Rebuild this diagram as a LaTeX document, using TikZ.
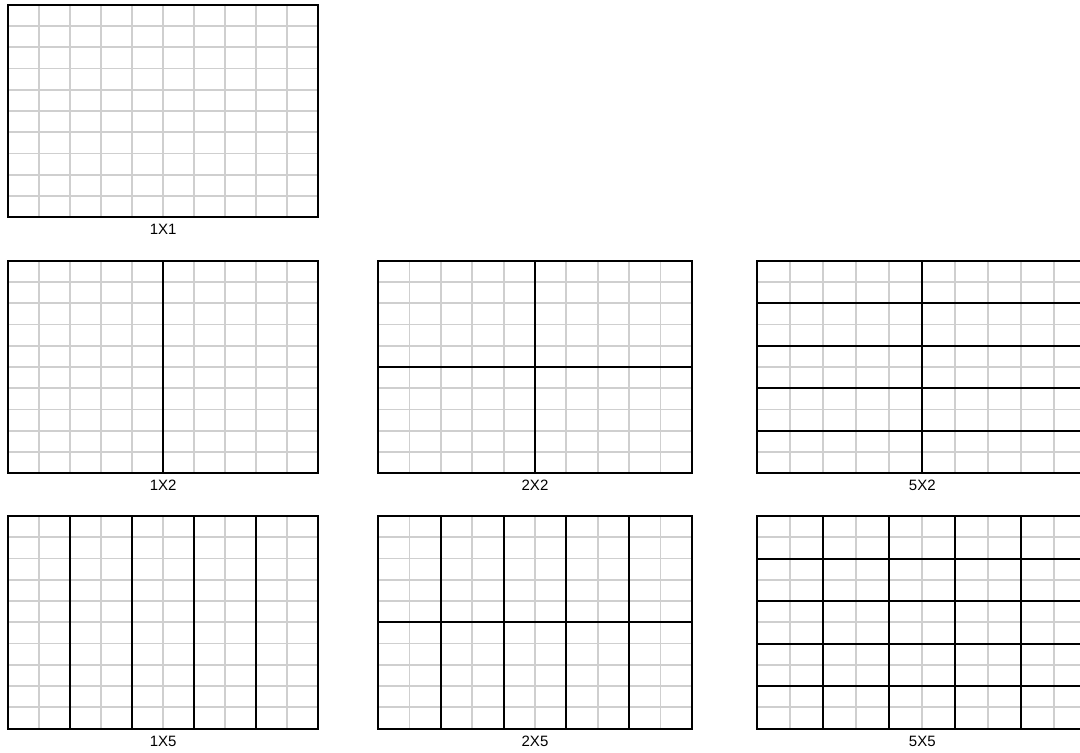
\documentclass[tikz,border=0pt]{standalone}
\usepackage{fontspec}
\setmainfont{Liberation Sans}

\begin{document}
\begin{tikzpicture}[
  x=1pt, y=-1pt,
  fine/.style={draw=black!19, line width=1.7pt},
  bold/.style={draw=black, line width=2pt, line cap=rect},
  lbl/.style={font=\fontsize{15}{15}\selectfont, anchor=base, inner sep=0pt},
]
  \useasboundingbox (0,0) rectangle (1080,753);
  \clip (0,0) rectangle (1080,753);

  % name / left / top / width / rows / cols
  \foreach \name/\x/\y/\w/\r/\c in {
      p11/8.3/4.7/309.7/1/1,
      p12/8.3/260.7/309.7/1/2,
      p22/378.3/260.7/313.4/2/2,
      p52/757.3/260.7/330/5/2,
      p15/8.3/516/309.7/1/5,
      p25/378.3/516/313.4/2/5,
      p55/757.3/516/330/5/5} {
    % light 10 x 10 grid
    \foreach \i in {1,...,9} {
      \draw[fine] ({\x+\i*\w/10},\y) -- ++(0,212.5);
      \draw[fine] (\x,{\y+\i*21.25}) -- ++(\w,0);
    }
    % frame and split lines
    \foreach \j in {0,...,\c}
      \draw[bold] ({\x+\j*\w/\c},\y) -- ++(0,212.5);
    \foreach \k in {0,...,\r}
      \draw[bold] (\x,{\y+\k*212.5/\r}) -- ++(\w,0);
    \node[lbl] (\name) at ({\x+\w/2},{\y+212.5+17.5}) {\r X\c};
  }
\end{tikzpicture}
\end{document}
